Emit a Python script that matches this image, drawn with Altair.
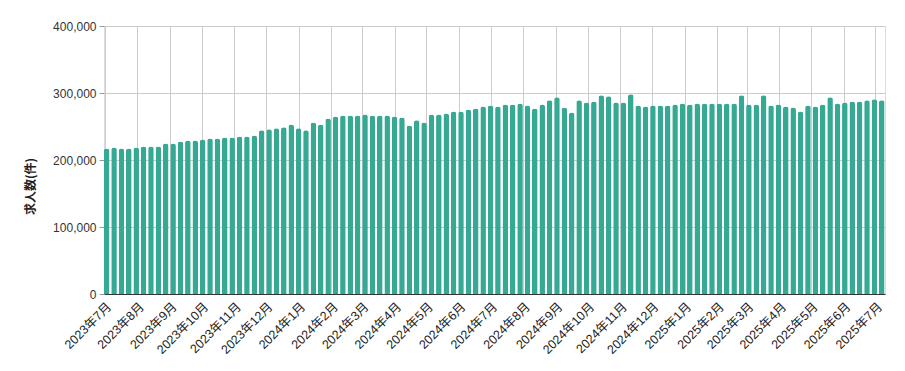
import altair as alt
import pandas as pd

first_week = "2023-07-03"
n_weeks = 106
values = [
    217200, 218700, 217000, 217000, 218700, 220000, 220000, 220000, 224500, 224500,
    227500, 229000, 229000, 230500, 232000, 232000, 233500, 233500, 235000, 235000,
    236500,
    244500, 246000, 247500, 249000, 253000, 247500, 244500, 256000, 253000, 262000,
    265000, 266500, 266500, 266500, 268000, 266500, 266500, 266500, 265000, 263500,
    251500,
    259400, 256000, 268000, 268000, 269500, 272500, 272500, 275500, 277000, 280000,
    281500, 280000, 283000, 283000, 284500, 281500, 277000, 283000, 289000, 293500,
    278500,
    271000, 289000, 286000, 287500, 296500, 295000, 286000, 286000, 298000, 281500,
    280000, 281500, 281500, 281500, 283000, 284500, 283000, 284500, 284500, 284500,
    284500,
    284500, 284500, 296500, 283000, 283000, 296500, 281500, 283000, 280000, 278500,
    272500, 281500, 280000, 283000, 293500, 284500, 286000, 287500, 287500, 289000,
    290500, 289000,
]

dates = pd.date_range(first_week, periods=n_weeks, freq="7D")
df = pd.DataFrame({
    "date": [d.strftime("%Y-%m-%dT00:00:00") for d in dates],
    "value": values,
})

FONT = "Liberation Sans, Arial, Noto Sans CJK JP, sans-serif"
TFONT = "Noto Sans CJK JP, sans-serif"

chart = alt.Chart(df).mark_bar(
    color="#36A995", size=5.6, cornerRadiusTopLeft=2.5, cornerRadiusTopRight=2.5
).encode(
    x=alt.X(
        "date:T",
        scale=alt.Scale(domain=[
            alt.DateTime(year=2023, month=6, date=30, hours=11, minutes=30),
            alt.DateTime(year=2025, month=7, date=10, hours=2),
        ], padding=0),
        axis=alt.Axis(
            title=None, format="%Y年%-m月",
            tickCount={"interval": "month", "step": 1},
            labelAngle=315, labelFont=FONT, labelFontSize=12.5, labelColor="#222",
            grid=True, gridColor="#cccccc", ticks=False,
            domainColor="#333333", labelPadding=6, labelOverlap=False,
        ),
    ),
    y=alt.Y(
        "value:Q",
        scale=alt.Scale(domain=[0, 400000], nice=False),
        axis=alt.Axis(
            title="求人数(件)", values=[0, 100000, 200000, 300000, 400000],
            format=",.0f", labelFont=FONT, labelFontSize=12, labelColor="#333",
            titleFont=TFONT, titleFontSize=12, titleFontWeight="bold", titleColor="#222",
            titleAngle=270, titleX=-74, titleY=160, titleAlign="center", titleBaseline="middle",
            grid=True, gridColor="#cccccc", domain=False,
            tickColor="#999999", tickSize=5, labelPadding=3,
        ),
    ),
).properties(
    width=781, height=268,
    autosize=alt.AutoSizeParams(type="none"),
    padding={"left": 96, "top": 18, "right": 8, "bottom": 60},
).configure_view(stroke=None).configure(background="white")

chart.save("out.html", embed_options={"renderer": "svg", "actions": False})
